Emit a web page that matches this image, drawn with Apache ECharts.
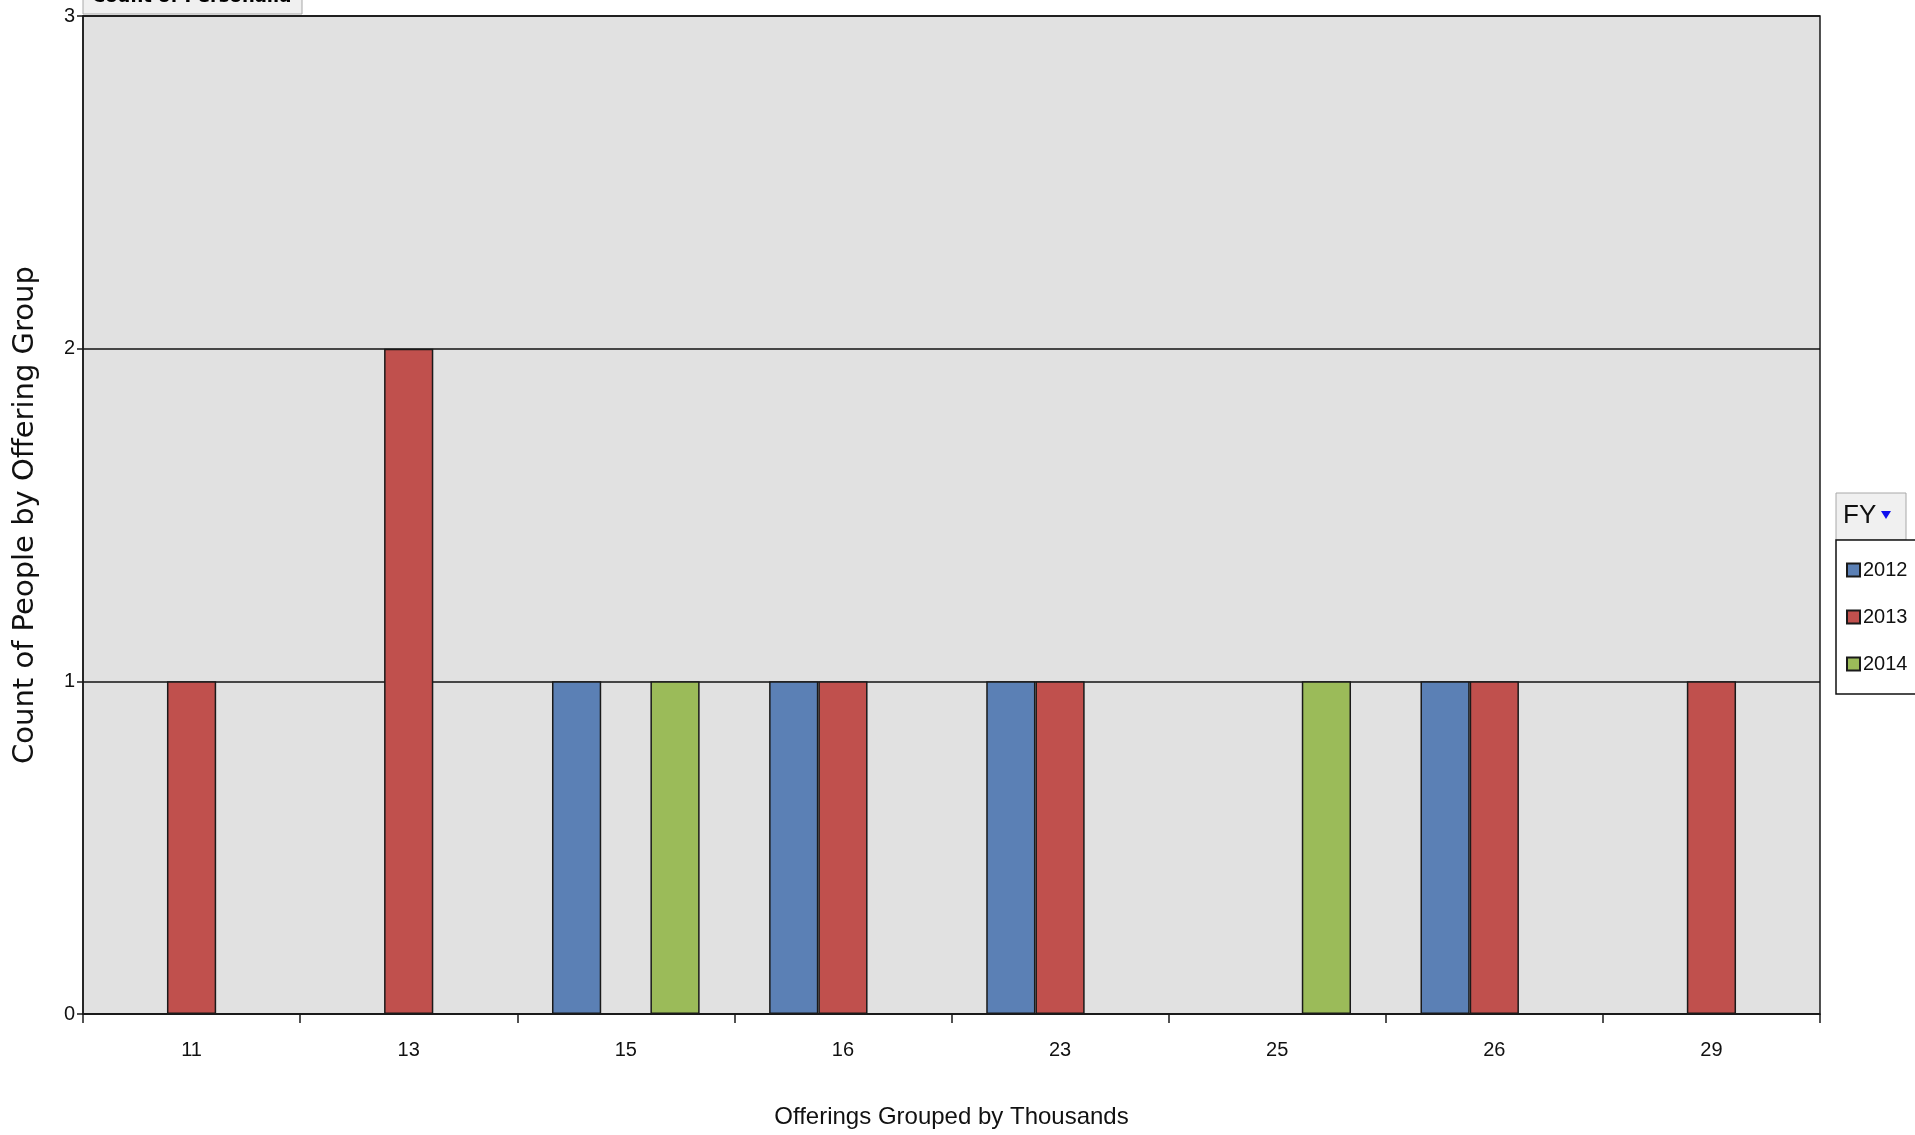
<!DOCTYPE html>
<html>
<head>
<meta charset="utf-8">
<script src="https://cdn.jsdelivr.net/npm/echarts@6/dist/echarts.min.js"></script>
<style>html,body{margin:0;padding:0;background:#fff}#c{width:1915px;height:1135px}</style>
</head>
<body>
<div id="c"></div>
<script>
const categories = ['11', '13', '15', '16', '23', '25', '26', '29'];
const fy2012 = [null, null, 1, 1, 1, null, 1, null];
const fy2013 = [1, 2, null, 1, 1, null, 1, 1];
const fy2014 = [null, null, 1, null, null, 1, null, null];
const yTicks = [0, 1, 2, 3];
const seriesNames = ['2012', '2013', '2014'];
const colors = ['#5b80b5', '#c0504d', '#9bbb59'];

const narrow = '"Liberation Sans Narrow", "Arial Narrow", "Liberation Sans", sans-serif';
const chart = echarts.init(document.getElementById('c'));
const barStyle = { borderColor: '#1a1a1a', borderWidth: 1.5 };
chart.setOption({
  animation: false,
  color: colors,
  grid: { left: 83, right: 95, top: 16, bottom: 121, show: true, backgroundColor: '#e1e1e1', borderColor: '#1a1a1a', borderWidth: 1.5 },
  legend: {
    orient: 'vertical', left: 1836, top: 540,
    data: seriesNames, icon: 'rect',
    backgroundColor: '#fff', borderColor: '#111', borderWidth: 1.5,
    padding: [20, 10, 20, 10], itemGap: 27, itemWidth: 13, itemHeight: 13,
    textStyle: { fontFamily: narrow, fontSize: 20, color: '#111', padding: [0, 0, 0, -2] }
  },
  graphic: [
    { type: 'rect', shape: { x: 1836, y: 493, width: 70, height: 47 }, style: { fill: '#f0f0f0', stroke: '#a8a8a8', lineWidth: 1 } },
    { type: 'text', left: 1843, top: 503, style: { text: 'FY', fontFamily: narrow, fontSize: 26, fill: '#111' } },
    { type: 'polygon', shape: { points: [[1881, 511], [1891, 511], [1886, 519]] }, style: { fill: '#1010ee' } },
    { type: 'rect', shape: { x: 83, y: -10, width: 219, height: 24 }, style: { fill: '#f0f0f0', stroke: '#a8a8a8', lineWidth: 1 } },
    { type: 'text', x: 92, y: 6, style: { text: 'Count of Personalia', fontFamily: '"DejaVu Sans", sans-serif', fontWeight: 'bold', fontSize: 18, fill: '#000', verticalAlign: 'bottom' } }
  ],
  xAxis: {
    type: 'category', data: categories,
    name: 'Offerings Grouped by Thousands', nameLocation: 'middle', nameGap: 91,
    nameTextStyle: { fontFamily: narrow, fontSize: 24, color: '#111' },
    axisLine: { lineStyle: { color: '#1a1a1a', width: 1.5 } },
    axisTick: { show: true, length: 9, lineStyle: { color: '#1a1a1a', width: 1.5 } },
    axisLabel: { fontFamily: narrow, fontSize: 20, color: '#111', margin: 26 }
  },
  yAxis: {
    type: 'value', min: 0, max: 3, interval: 1,
    name: 'Count of People by Offering Group', nameLocation: 'middle', nameGap: 43, nameRotate: 90,
    nameTextStyle: { fontFamily: '"DejaVu Sans", sans-serif', fontSize: 29, color: '#111' },
    axisLine: { show: true, lineStyle: { color: '#1a1a1a', width: 1.5 } },
    axisTick: { show: true, length: 6, lineStyle: { color: '#1a1a1a', width: 1.5 } },
    splitLine: { lineStyle: { color: '#111', width: 1.5 } },
    axisLabel: { fontFamily: narrow, fontSize: 20, color: '#111', margin: 8,
      formatter: v => yTicks.includes(v) ? String(v) : '' }
  },
  series: [
    { name: seriesNames[0], type: 'bar', data: fy2012, barGap: '0%', barCategoryGap: '32%', itemStyle: barStyle },
    { name: seriesNames[1], type: 'bar', data: fy2013, barGap: '0%', barCategoryGap: '32%', itemStyle: barStyle },
    { name: seriesNames[2], type: 'bar', data: fy2014, barGap: '0%', barCategoryGap: '32%', itemStyle: barStyle }
  ]
});
</script>
</body>
</html>
